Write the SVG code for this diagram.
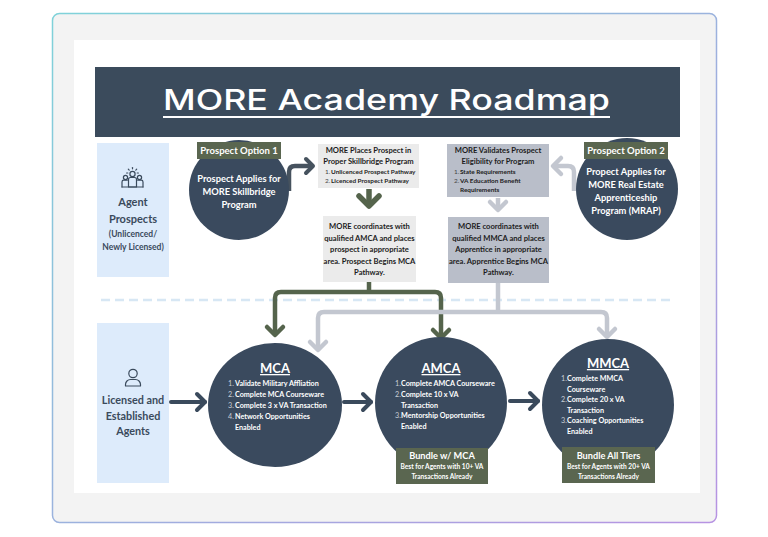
<svg xmlns="http://www.w3.org/2000/svg" width="768" height="537" viewBox="0 0 768 537">
<defs>
<linearGradient id="frameGrad" x1="0" y1="0" x2="1" y2="1">
<stop offset="0" stop-color="#7fd2d9"/>
<stop offset="1" stop-color="#b793e2"/>
</linearGradient>
<marker id="mDark" markerUnits="userSpaceOnUse" viewBox="-12 -12 16 24" markerWidth="16" markerHeight="24" refX="0" refY="0" orient="auto" overflow="visible">
<path d="M-8,-8 L0,0 L-8,8" fill="none" stroke="#3a4a5c" stroke-width="4" stroke-linecap="round" stroke-linejoin="round"/>
</marker>
<marker id="mDarkS" markerUnits="userSpaceOnUse" viewBox="-12 -12 16 24" markerWidth="16" markerHeight="24" refX="0" refY="0" orient="auto" overflow="visible">
<path d="M-7,-7 L0,0 L-7,7" fill="none" stroke="#46525e" stroke-width="4" stroke-linecap="round" stroke-linejoin="round"/>
</marker>
<marker id="mGreen" markerUnits="userSpaceOnUse" viewBox="-12 -12 16 24" markerWidth="16" markerHeight="24" refX="0" refY="0" orient="auto" overflow="visible">
<path d="M-8,-8 L0,0 L-8,8" fill="none" stroke="#55644c" stroke-width="4.5" stroke-linecap="round" stroke-linejoin="round"/>
</marker>
<marker id="mGreenBig" markerUnits="userSpaceOnUse" viewBox="-14 -14 18 28" markerWidth="18" markerHeight="28" refX="0" refY="0" orient="auto" overflow="visible">
<path d="M-10,-10 L0,0 L-10,10" fill="none" stroke="#55644c" stroke-width="5.5" stroke-linecap="round" stroke-linejoin="round"/>
</marker>
<marker id="mLight" markerUnits="userSpaceOnUse" viewBox="-12 -12 16 24" markerWidth="16" markerHeight="24" refX="0" refY="0" orient="auto" overflow="visible">
<path d="M-8,-8 L0,0 L-8,8" fill="none" stroke="#c3c7d0" stroke-width="4.5" stroke-linecap="round" stroke-linejoin="round"/>
</marker>
<style>
.t{font-family:Lato,"Liberation Sans",sans-serif;font-weight:700;}
.w{fill:#ffffff;}
.k{fill:#1c1c1c;}
.dk{fill:#3a4a5c;}
.num{fill:#c9ced6;font-weight:400;}
.numk{fill:#444444;font-weight:400;}
.c{text-anchor:middle;}
.circ{fill:#3a4a5e;}
.lbl{fill:#5a6650;}
.boxA{fill:#ebebeb;}
.boxB{fill:#b9bec9;}
.panel{fill:#ddebfb;}
.dk-line{fill:none;stroke:#3a4a5c;stroke-width:4;stroke-linecap:round;}
.gr-line{fill:none;stroke:#55644c;stroke-width:4.5;stroke-linejoin:round;}
.lt-line{fill:none;stroke:#c3c7d0;stroke-width:4.5;stroke-linejoin:round;}
.icon{fill:none;stroke:#3a4a5c;stroke-width:1.2;stroke-linecap:round;stroke-linejoin:round;}
</style>
</defs>

<!-- frame -->
<rect x="52.5" y="13.5" width="664" height="509" rx="7" fill="#f3f3f3" stroke="url(#frameGrad)" stroke-width="1.5"/>
<rect x="74" y="40" width="626" height="453" fill="#ffffff"/>

<!-- header -->
<g id="header">
<rect x="95" y="67" width="585" height="70" fill="#3b4b5c"/>
<text x="386.5" y="110" font-family="Inter,'Liberation Sans',sans-serif" font-size="28" font-weight="500" fill="#ffffff" text-anchor="middle" textLength="447" lengthAdjust="spacingAndGlyphs">MORE Academy Roadmap</text>
<rect x="163" y="116" width="447" height="2" fill="#ffffff"/>
</g>

<!-- dashed separator -->
<line x1="101" y1="300" x2="672" y2="300" stroke="#d7e7f4" stroke-width="2.5" stroke-dasharray="9 5"/>

<!-- left panels -->
<g id="agent-prospects">
<rect class="panel" x="97" y="143" width="72" height="134"/>
<g class="icon">
<circle cx="132.5" cy="174" r="2.6"/>
<path d="M128.5,187 v-7.5 a2,2 0 0 1 2,-2 h4 a2,2 0 0 1 2,2 v7.5 z"/>
<circle cx="125.5" cy="177.5" r="2.1"/>
<path d="M122,187 v-5 a1.8,1.8 0 0 1 1.8,-1.8 h3.5"/>
<circle cx="139.5" cy="177.5" r="2.1"/>
<path d="M143,187 v-5 a1.8,1.8 0 0 0 -1.8,-1.8 h-3.5"/>
<line x1="122" y1="187" x2="143" y2="187"/>
<line x1="132.5" y1="167.5" x2="132.5" y2="168.8"/>
<line x1="128.3" y1="169.2" x2="129.2" y2="170.1"/>
<line x1="136.7" y1="169.2" x2="135.8" y2="170.1"/>
<line x1="126.6" y1="173" x2="127.8" y2="173"/>
<line x1="138.4" y1="173" x2="137.2" y2="173"/>
</g>
<text class="t dk c" x="133" y="206" font-size="11" font-weight="600">Agent</text>
<text class="t dk c" x="133" y="223" font-size="11" font-weight="600">Prospects</text>
<text class="t dk c" x="133" y="237" font-size="8.5">(Unlicenced/</text>
<text class="t dk c" x="133" y="250" font-size="8.5">Newly Licensed)</text>
</g>

<g id="licensed-agents">
<rect class="panel" x="97" y="323" width="72" height="160"/>
<g class="icon" stroke-width="1.5">
<circle cx="133" cy="373.5" r="4.2"/>
<path d="M125.5,386 v-1.5 a5,5 0 0 1 5,-5 h5 a5,5 0 0 1 5,5 v1.5 z"/>
</g>
<text class="t dk c" x="133" y="404" font-size="10.8">Licensed and</text>
<text class="t dk c" x="133" y="420" font-size="10.8">Established</text>
<text class="t dk c" x="133" y="435" font-size="10.8">Agents</text>
</g>

<!-- connectors -->
<g id="connectors">
<path d="M289,191 V172 Q289,166 295,166 H313" fill="none" stroke="#46525e" stroke-width="4.5" stroke-linejoin="round" marker-end="url(#mDarkS)"/>
<path d="M574,191 V172 Q574,166 568,166 H553" class="lt-line" marker-end="url(#mLight)"/>
<path d="M369,189 V206" fill="none" stroke="#55644c" stroke-width="5.5" marker-end="url(#mGreenBig)"/>
<path d="M498,198 V210" class="lt-line" marker-end="url(#mLight)"/>
<path d="M369,282 V292" class="gr-line"/>
<path d="M275,334 V298 Q275,292 281,292 H435 Q441,292 441,298 V337" class="gr-line"/>
<line x1="275" y1="334" x2="275" y2="335" class="gr-line" marker-end="url(#mGreen)"/>
<line x1="441" y1="337" x2="441" y2="338" class="gr-line" marker-end="url(#mGreen)"/>
<path d="M498,283 V312" class="lt-line"/>
<path d="M318,349 V318 Q318,312 324,312 H601 Q607,312 607,318 V336" class="lt-line"/>
<line x1="318" y1="349" x2="318" y2="350" class="lt-line" marker-end="url(#mLight)"/>
<line x1="607" y1="336" x2="607" y2="337" class="lt-line" marker-end="url(#mLight)"/>
<line x1="171" y1="402" x2="205" y2="402" class="dk-line" marker-end="url(#mDark)"/>
<line x1="344" y1="402" x2="371" y2="402" class="dk-line" marker-end="url(#mDark)"/>
<line x1="510" y1="401" x2="538" y2="401" class="dk-line" marker-end="url(#mDark)"/>
</g>

<!-- prospect option 1 -->
<g id="option1">
<circle class="circ" cx="239" cy="190" r="50"/>
<rect class="lbl" x="197" y="142" width="84" height="17"/>
<text class="t w c" x="239" y="153.5" font-size="9.5">Prospect Option 1</text>
<text class="t w c" x="239" y="182" font-size="9.3">Prospect Applies for</text>
<text class="t w c" x="239" y="195" font-size="9.3">MORE Skillbridge</text>
<text class="t w c" x="239" y="208" font-size="9.3">Program</text>
</g>

<!-- prospect option 2 -->
<g id="option2">
<circle class="circ" cx="627" cy="189" r="51"/>
<rect class="lbl" x="584" y="142" width="84" height="17"/>
<text class="t w c" x="626" y="153.5" font-size="9.5">Prospect Option 2</text>
<text class="t w c" x="626" y="175" font-size="9.3">Propect Applies for</text>
<text class="t w c" x="626" y="188" font-size="9.3">MORE Real Estate</text>
<text class="t w c" x="626" y="201" font-size="9.3">Apprenticeship</text>
<text class="t w c" x="626" y="214" font-size="9.3">Program (MRAP)</text>
</g>

<!-- box: places prospect -->
<g id="places">
<rect class="boxA" x="318" y="144" width="101" height="44"/>
<text class="t k c" x="368.5" y="152.5" font-size="7.6">MORE Places Prospect in</text>
<text class="t k c" x="368.5" y="163.5" font-size="7.6">Proper Skillbridge Program</text>
<text class="t numk" x="325" y="173.5" font-size="6.4">1.</text>
<text class="t k" x="331" y="173.5" font-size="6.4" font-weight="400">Unlicenced Prospect Pathway</text>
<text class="t numk" x="325" y="182.5" font-size="6.4">2.</text>
<text class="t k" x="331" y="182.5" font-size="6.4" font-weight="400">Licenced Prospect Pathway</text>
</g>

<!-- box: coordinates AMCA -->
<g id="coord-amca">
<rect class="boxA" x="323" y="216" width="93" height="66"/>
<text class="t k c" x="369.5" y="229" font-size="7.6">MORE coordinates with</text>
<text class="t k c" x="369.5" y="240.5" font-size="7.6">qualified AMCA and places</text>
<text class="t k c" x="369.5" y="252" font-size="7.6">prospect in appropriate</text>
<text class="t k c" x="369.5" y="263.5" font-size="7.6">area. Prospect Begins MCA</text>
<text class="t k c" x="369.5" y="275" font-size="7.6">Pathway.</text>
</g>

<!-- box: validates -->
<g id="validates">
<rect class="boxB" x="447" y="144" width="102" height="53"/>
<text class="t k c" x="498" y="152.5" font-size="7.6">MORE Validates Prospect</text>
<text class="t k c" x="498" y="163.5" font-size="7.6">Eligibility for Program</text>
<text class="t numk" x="454" y="173.5" font-size="6.4">1.</text>
<text class="t k" x="460" y="173.5" font-size="6.4" font-weight="400">State Requirements</text>
<text class="t numk" x="454" y="182.5" font-size="6.4">2.</text>
<text class="t k" x="460" y="182.5" font-size="6.4" font-weight="400">VA Education Benefit</text>
<text class="t k" x="460" y="192" font-size="6.4" font-weight="400">Requirements</text>
</g>

<!-- box: coordinates MMCA -->
<g id="coord-mmca">
<rect class="boxB" x="448" y="217" width="101" height="66"/>
<text class="t k c" x="498.5" y="229" font-size="7.6">MORE coordinates with</text>
<text class="t k c" x="498.5" y="240.5" font-size="7.6">qualified MMCA and places</text>
<text class="t k c" x="498.5" y="252" font-size="7.6">Apprentice in appropriate</text>
<text class="t k c" x="498.5" y="263.5" font-size="7.6">area. Apprentice Begins MCA</text>
<text class="t k c" x="498.5" y="275" font-size="7.6">Pathway.</text>
</g>

<!-- MCA -->
<g id="mca">
<ellipse class="circ" cx="275" cy="405" rx="67" ry="62"/>
<text class="t w c" x="275" y="373" font-size="13" text-decoration="underline">MCA</text>
<text class="t num" x="228" y="386" font-size="7.2">1.</text>
<text class="t w" x="235" y="386" font-size="7.2">Validate Military Affliation</text>
<text class="t num" x="228" y="397" font-size="7.2">2.</text>
<text class="t w" x="235" y="397" font-size="7.2">Complete MCA Courseware</text>
<text class="t num" x="228" y="408" font-size="7.2">3.</text>
<text class="t w" x="235" y="408" font-size="7.2">Complete 3 x VA Transaction</text>
<text class="t num" x="228" y="419" font-size="7.2">4.</text>
<text class="t w" x="235" y="419" font-size="7.2">Network Opportunities</text>
<text class="t w" x="235" y="430" font-size="7.2">Enabled</text>
</g>

<!-- AMCA -->
<g id="amca">
<circle class="circ" cx="441" cy="403" r="66"/>
<text class="t w c" x="441" y="373" font-size="13" text-decoration="underline">AMCA</text>
<text class="t num" x="395" y="386" font-size="7.2">1.</text>
<text class="t w" x="401" y="386" font-size="7.2">Complete AMCA Courseware</text>
<text class="t num" x="395" y="397" font-size="7.2">2.</text>
<text class="t w" x="401" y="397" font-size="7.2">Complete 10 x VA</text>
<text class="t w" x="401" y="407.5" font-size="7.2">Transaction</text>
<text class="t num" x="395" y="418" font-size="7.2">3.</text>
<text class="t w" x="401" y="418" font-size="7.2">Mentorship Opportunities</text>
<text class="t w" x="401" y="428.5" font-size="7.2">Enabled</text>
<rect class="lbl" x="396" y="448" width="92" height="36"/>
<text class="t w c" x="442" y="459" font-size="9.2">Bundle w/ MCA</text>
<text class="t w c" x="442" y="468.5" font-size="6.6">Best for Agents with 10+ VA</text>
<text class="t w c" x="442" y="478.5" font-size="6.6">Transactions Already</text>
</g>

<!-- MMCA -->
<g id="mmca">
<circle class="circ" cx="608" cy="405" r="66"/>
<text class="t w c" x="608" y="368" font-size="13" text-decoration="underline">MMCA</text>
<text class="t num" x="561" y="381" font-size="7.2">1.</text>
<text class="t w" x="567" y="381" font-size="7.2">Complete MMCA</text>
<text class="t w" x="567" y="391.5" font-size="7.2">Courseware</text>
<text class="t num" x="561" y="402" font-size="7.2">2.</text>
<text class="t w" x="567" y="402" font-size="7.2">Complete 20 x VA</text>
<text class="t w" x="567" y="412.5" font-size="7.2">Transaction</text>
<text class="t num" x="561" y="423" font-size="7.2">3.</text>
<text class="t w" x="567" y="423" font-size="7.2">Coaching Opportunities</text>
<text class="t w" x="567" y="433.5" font-size="7.2">Enabled</text>
<rect class="lbl" x="562" y="447" width="93" height="36"/>
<text class="t w c" x="608.5" y="459" font-size="9.2">Bundle All Tiers</text>
<text class="t w c" x="608.5" y="468.5" font-size="6.6">Best for Agents with 20+ VA</text>
<text class="t w c" x="608.5" y="478.5" font-size="6.6">Transactions Already</text>
</g>
</svg>
